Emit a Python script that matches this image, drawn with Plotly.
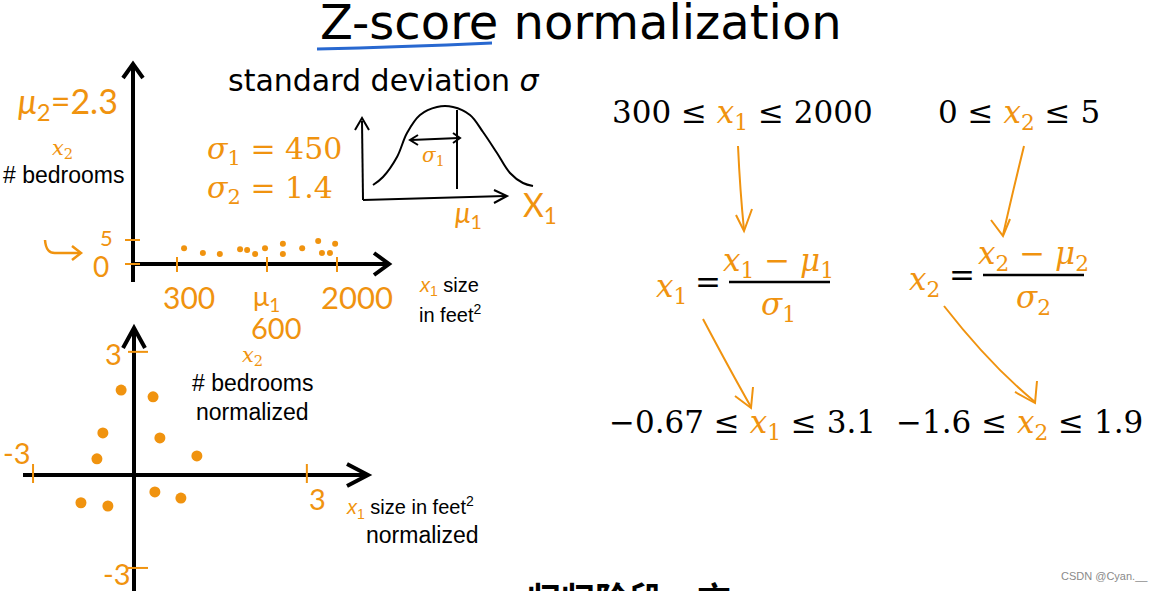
import plotly.graph_objects as go

# ---------------- data ----------------
SIZE_SQFT = [375, 575, 755, 970, 1045, 1130, 1235, 1425, 1425, 1630, 1800, 1840, 1980, 1925]
BEDROOMS = [3.3, 2.3, 2.1, 3.1, 2.9, 2.1, 3.3, 4.2, 2.1, 3.3, 4.8, 2.3, 4.2, 2.3]

SIZE_NORM = [-1.07, -0.37, -1.47, -0.22, -1.60, 0.59, -0.33, 0.24, -1.95, -1.36]
BEDROOMS_NORM = [1.94, 1.75, 0.75, 0.61, 0.03, 0.11, -0.89, -1.06, -1.19, -1.28]

BELL_X = [10, 20, 34, 44, 57, 74, 90, 107, 120, 134, 147, 160, 170]
BELL_Y = [15, 23, 43, 67, 85, 93, 93, 85, 68, 47, 27, 17, 14]

X1_TICK_VALS = [300, 1256, 2000]
X1_TICK_TEXT = ["300", "μ<sub>1</sub>", "2000"]
X2_TICK_VALS = [5, 0]
X2_TICK_TEXT = ["5", "0"]
NORM_TICK_VALS = [-3, 3]
NORM_TICK_TEXT = ["-3", "3"]

MU1 = 600
MU2 = 2.3
SIGMA1 = 450
SIGMA2 = 1.4
X1_RANGE = (300, 2000)
X2_RANGE = (0, 5)
X1_NORM_RANGE = ("−0.67", "3.1")
X2_NORM_RANGE = ("−1.6", "1.9")

# ---------------- styling helpers ----------------
W, H = 1164, 591
ORANGE = "#F0930F"
BLACK = "#000000"
MATH = "DejaVu Serif"
SANS = "DejaVu Sans"
ARIAL = "Liberation Sans"
HAND = "Lato"


def px(x):
    return x / W


def py(y):
    return 1 - y / H


shapes = []
annotations = []


def seg(x0, y0, x1, y1, color=BLACK, width=4):
    shapes.append(dict(type="line", xref="paper", yref="paper",
                       x0=px(x0), y0=py(y0), x1=px(x1), y1=py(y1),
                       line=dict(color=color, width=width), layer="above"))


def path(cmds, color=BLACK, width=4):
    out = []
    for c in cmds:
        if isinstance(c, str):
            out.append(c)
        else:
            out.append(f"{px(c[0]):.5f},{py(c[1]):.5f}")
    shapes.append(dict(type="path", xref="paper", yref="paper", path=" ".join(out),
                       line=dict(color=color, width=width), layer="above"))


def chevron(a, tip, b, color=BLACK, width=4):
    path(["M", a, "L", tip, "L", b], color, width)


def text(x, y, s, size, color=BLACK, family=SANS, xanchor="center", yanchor="middle", **kw):
    annotations.append(dict(x=px(x), y=py(y), xref="paper", yref="paper", text=s,
                            showarrow=False, xanchor=xanchor, yanchor=yanchor,
                            font=dict(size=size, color=color, family=family), **kw))


def orange(s):
    return f"<span style='color:{ORANGE}'>{s}</span>"


fig = go.Figure()

# ---------------- traces ----------------
fig.add_trace(go.Scatter(x=SIZE_SQFT, y=BEDROOMS, xaxis="x", yaxis="y", mode="markers",
                         marker=dict(color=ORANGE, size=6, line=dict(width=0)),
                         hoverinfo="skip", showlegend=False))
fig.add_trace(go.Scatter(x=SIZE_NORM, y=BEDROOMS_NORM, xaxis="x2", yaxis="y2", mode="markers",
                         marker=dict(color=ORANGE, size=11, line=dict(width=0)),
                         hoverinfo="skip", showlegend=False))
fig.add_trace(go.Scatter(x=BELL_X, y=BELL_Y, xaxis="x3", yaxis="y3", mode="lines",
                         line=dict(color=BLACK, width=2, shape="spline"),
                         hoverinfo="skip", showlegend=False))

hidden = dict(visible=False, fixedrange=True, showgrid=False, zeroline=False)
fig.update_layout(
    xaxis=dict(domain=[px(133), px(390)], range=[-167.5, 2563], anchor="y", **hidden),
    yaxis=dict(domain=[py(282), py(63)], range=[-3.75, 41.9], anchor="x", **hidden),
    xaxis2=dict(domain=[px(23), px(368)], range=[-3.22, 4.34], anchor="y2", **hidden),
    yaxis2=dict(domain=[0, py(327)], range=[-3.64, 3.69], anchor="x2", **hidden),
    xaxis3=dict(domain=[px(363), px(543)], range=[0, 180], anchor="y3", **hidden),
    yaxis3=dict(domain=[py(200), py(100)], range=[0, 100], anchor="x3", **hidden),
)

# ---------------- title ----------------
text(581, 22, "Z-score normalization", 48, BLACK, SANS)
path(["M", (317, 49), "Q", (400, 47), (492, 43)], "#2868D0", 3)

# ---------------- top-left raw plot ----------------
seg(133, 282, 133, 66)
chevron((123, 78), (133, 64), (143, 78))
seg(131, 264, 388, 264)
chevron((374, 253), (389, 264), (374, 275))

for v, t, dx, sz in zip(X1_TICK_VALS, X1_TICK_TEXT, [12, 0, 20], [30, 27, 31]):
    shapes.append(dict(type="line", xref="x", yref="paper", x0=v, x1=v,
                       y0=py(272), y1=py(257), line=dict(color=ORANGE, width=2)))
    annotations.append(dict(x=v, y=py(297), xref="x", yref="paper", text=t, xshift=dx,
                            showarrow=False, font=dict(size=sz, color=ORANGE, family=HAND)))
text(276, 327, str(MU1), 29, ORANGE, HAND)
for v, t, xx in zip(X2_TICK_VALS, X2_TICK_TEXT, [98, 91]):
    shapes.append(dict(type="line", xref="paper", yref="y", x0=px(125), x1=px(140),
                       y0=v, y1=v, line=dict(color=ORANGE, width=2)))
    annotations.append(dict(x=px(xx), y=v, xref="paper", yref="y", text=t, yshift=(3 if v else -2),
                            showarrow=False, font=dict(size=(22 if v else 28), color=ORANGE, family=HAND)))
path(["M", (45, 240), "Q", (46, 254), (56, 253), "L", (80, 253)], ORANGE, 2.5)
chevron((72, 246), (81, 253), (72, 260), ORANGE, 2.5)

text(68, 103, f"<i>μ</i><sub>2</sub>={MU2}", 34, ORANGE, HAND)
text(62, 149, "<i>x</i><sub>2</sub>", 21, ORANGE, MATH)
text(63, 175, "# bedrooms", 23, BLACK, ARIAL)
text(205, 150, f"<i>σ</i><sub>1</sub> = {SIGMA1:g}", 30, ORANGE, MATH, xanchor="left")
text(205, 190, f"<i>σ</i><sub>2</sub> = {SIGMA2:g}", 30, ORANGE, MATH, xanchor="left")
text(417, 287, orange("<i>x</i><sub>1</sub>") + " size", 20, BLACK, ARIAL, xanchor="left")
text(417, 313, "in feet<sup>2</sup>", 20, BLACK, ARIAL, xanchor="left")

# ---------------- bell-curve sketch ----------------
text(226, 80, "standard deviation <i>σ</i>", 30, BLACK, SANS, xanchor="left")
seg(363, 200, 362, 121, BLACK, 2)
chevron((355, 130), (362, 118), (369, 130), BLACK, 2)
seg(363, 200, 505, 196, BLACK, 2)
chevron((494, 190), (507, 196), (494, 203), BLACK, 2)
seg(457, 110, 457, 189, BLACK, 2)
seg(411, 140, 459, 138, BLACK, 2)
chevron((418, 135), (410, 140), (418, 145), BLACK, 2)
chevron((453, 133), (460, 138), (453, 143), BLACK, 2)
text(433, 156, "<i>σ</i><sub>1</sub>", 20, ORANGE, MATH)
text(468, 214, "<i>μ</i><sub>1</sub>", 28, ORANGE, HAND)
text(540, 207, "X<sub>1</sub>", 32, ORANGE, HAND)

# ---------------- right-hand equations ----------------
EQ = 31
text(742, 114, f"{X1_RANGE[0]} ≤ " + orange("<i>x</i><sub>1</sub>") + f" ≤ {X1_RANGE[1]}", EQ, BLACK, MATH)
text(1019, 114, f"{X2_RANGE[0]} ≤ " + orange("<i>x</i><sub>2</sub>") + f" ≤ {X2_RANGE[1]}", EQ, BLACK, MATH)

text(672, 288, orange("<i>x</i><sub>1</sub>"), EQ, ORANGE, MATH)
text(708, 282, "=", EQ, BLACK, MATH)
seg(729, 282, 830, 282, BLACK, 2.5)
text(778, 262, "<i>x</i><sub>1</sub> − <i>μ</i><sub>1</sub>", EQ, ORANGE, MATH)
text(778, 306, "<i>σ</i><sub>1</sub>", EQ, ORANGE, MATH)

text(924, 281, orange("<i>x</i><sub>2</sub>"), EQ, ORANGE, MATH)
text(962, 275, "=", EQ, BLACK, MATH)
seg(983, 275, 1084, 275, BLACK, 2.5)
text(1033, 255, "<i>x</i><sub>2</sub> − <i>μ</i><sub>2</sub>", EQ, ORANGE, MATH)
text(1033, 299, "<i>σ</i><sub>2</sub>", EQ, ORANGE, MATH)

text(742, 424, f"{X1_NORM_RANGE[0]} ≤ " + orange("<i>x</i><sub>1</sub>") + f" ≤ {X1_NORM_RANGE[1]}", EQ, BLACK, MATH)
text(1019, 424, f"{X2_NORM_RANGE[0]} ≤ " + orange("<i>x</i><sub>2</sub>") + f" ≤ {X2_NORM_RANGE[1]}", EQ, BLACK, MATH)

# orange hand-drawn arrows
path(["M", (738, 146), "Q", (740, 190), (744, 230)], ORANGE, 2)
chevron((736, 215), (744, 231), (752, 209), ORANGE, 2)
path(["M", (1024, 146), "Q", (1012, 195), (1003, 235)], ORANGE, 2)
chevron((991, 220), (1003, 236), (1010, 219), ORANGE, 2)
path(["M", (703, 319), "Q", (730, 370), (751, 407)], ORANGE, 2)
chevron((735, 396), (751, 408), (753, 387), ORANGE, 2)
path(["M", (944, 306), "Q", (990, 365), (1035, 402)], ORANGE, 2)
chevron((1015, 392), (1035, 403), (1037, 381), ORANGE, 2)

# ---------------- bottom-left normalized plot ----------------
seg(134, 591, 134, 330)
chevron((123, 348), (134, 328), (145, 348))
seg(23, 475, 366, 475)
chevron((347, 464), (368, 475), (347, 486))

for v, t, xx, yy in zip(NORM_TICK_VALS, NORM_TICK_TEXT, [17, 317], [452, 498]):
    shapes.append(dict(type="line", xref="x2", yref="paper", x0=v, x1=v,
                       y0=py(483), y1=py(464), line=dict(color=ORANGE, width=2)))
    text(xx, yy, t, 29, ORANGE, HAND)
for v, t, xx in zip(NORM_TICK_VALS, NORM_TICK_TEXT, [101, 103]):
    shapes.append(dict(type="line", xref="paper", yref="y2", x0=px(128), x1=px(148),
                       y0=v, y1=v, line=dict(color=ORANGE, width=2)))
    annotations.append(dict(x=px(xx), y=v, xref="paper", yref="y2", text=t, yshift=(-6 if v < 0 else -2),
                            showarrow=False, font=dict(size=29, color=ORANGE, family=HAND)))

text(252, 356, "<i>x</i><sub>2</sub>", 21, ORANGE, MATH)
text(252, 383, "# bedrooms", 23, BLACK, ARIAL)
text(252, 412, "normalized", 23, BLACK, ARIAL)
text(344, 507, orange("<i>x</i><sub>1</sub>") + " size in feet<sup>2</sup>", 20, BLACK, ARIAL, xanchor="left")
text(422, 535, "normalized", 23, BLACK, ARIAL)

# ---------------- footer ----------------
text(525, 571, "<b>归归阶段一方</b>", 34, BLACK, "Noto Sans CJK SC", xanchor="left", yanchor="top")
text(1150, 576, "CSDN @Cyan.__", 11, "#8a8a8a", ARIAL, xanchor="right")

fig.update_layout(
    width=W, height=H, autosize=False,
    margin=dict(l=0, r=0, t=0, b=0, pad=0),
    paper_bgcolor="white", plot_bgcolor="rgba(0,0,0,0)",
    shapes=shapes, annotations=annotations, showlegend=False,
)

fig.write_html("out.html", config={"displayModeBar": False, "staticPlot": True},
               post_script="document.body.style.margin='0';document.body.style.overflow='hidden';")
